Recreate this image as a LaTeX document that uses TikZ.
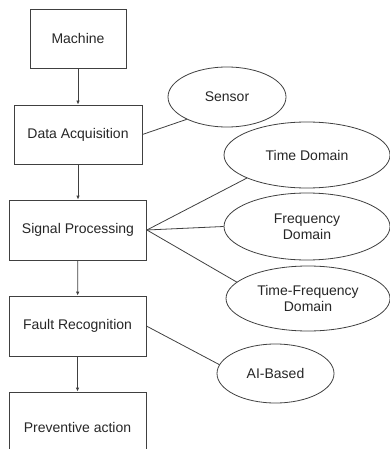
\documentclass[tikz,border=0pt]{standalone}
\usepackage{fontspec}
\setmainfont{Liberation Sans}
\usetikzlibrary{shapes.geometric,arrows.meta}

\begin{document}
\begin{tikzpicture}[x=1pt,y=-1pt,
  stage/.style={rectangle,draw=black!75,line width=0.8pt,text=black!85,
                font=\fontsize{14}{16}\selectfont,align=center,inner sep=2pt},
  method/.style={ellipse,draw=black!75,line width=0.8pt,text=black!85,
                 font=\fontsize{14}{16}\selectfont,align=center,inner sep=0pt},
  arr/.style={-{Latex[length=4pt,width=3.5pt]},line width=0.8pt,draw=black!75},
  link/.style={line width=0.8pt,draw=black!75},
]

% Canvas
\clip (0,0) rectangle (390,449);

% Stages
\node[stage,minimum width=96pt,minimum height=59pt] (mach) at (78,38.5) {Machine};
\node[stage,minimum width=128pt,minimum height=59pt] (acq) at (78,134.5) {Data Acquisition};
\node[stage,minimum width=137pt,minimum height=60pt] (sig) at (78,230) {Signal Processing};
\node[stage,minimum width=137pt,minimum height=60pt] (fault) at (77.5,326) {Fault Recognition};
\node[stage,minimum width=137pt,minimum height=70pt] (prev) at (77.5,427) {Preventive action};

% Methods
\node[method,minimum width=118pt,minimum height=60pt] (sensor) at (227,97) {Sensor};
\node[method,minimum width=166pt,minimum height=66pt] (time) at (307,155) {Time Domain};
\node[method,minimum width=166pt,minimum height=67pt] (freq) at (307,226.5) {Frequency\\Domain};
\node[method,minimum width=164pt,minimum height=65pt] (tfreq) at (308,298.5) {Time-Frequency\\Domain};
\node[method,minimum width=117pt,minimum height=59pt] (ai) at (275.5,373.5) {AI-Based};

% Flow
\draw[arr] (mach) -- (acq);
\draw[arr] (acq) -- (sig);
\draw[arr] (sig) -- (fault);
\draw[arr] (fault) -- (prev.north);

% Links to methods
\draw[link] (acq.east) -- (sensor.209);
\draw[link] (sig.east) -- (time.201);
\draw[link] (sig.east) -- (freq.west);
\draw[link] (sig.east) -- (tfreq.167);
\draw[link] (fault.east) -- (ai.171);

\end{tikzpicture}
\end{document}
